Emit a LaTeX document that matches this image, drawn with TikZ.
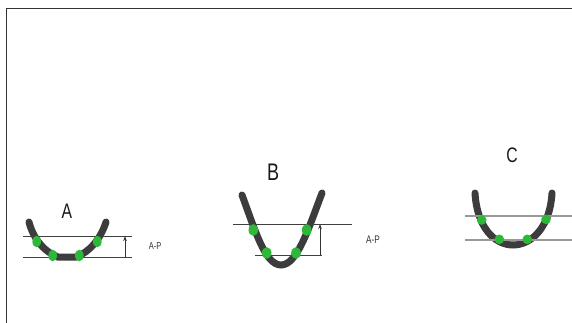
\documentclass[tikz,border=0pt]{standalone}
\usepackage{fontspec}
\setmainfont{Liberation Sans}
\usetikzlibrary{arrows.meta}
\definecolor{archgray}{HTML}{3C3C3C}
\definecolor{dotgreen}{HTML}{2DB83A}
\begin{document}
\begin{tikzpicture}[x=1pt,y=-1pt,
  arch/.style={draw=archgray,line width=7pt,line cap=round},
  refline/.style={draw=black!75,line width=0.8pt},
  lightline/.style={draw=black!40,line width=1.1pt},
  dimarrow/.style={draw=black!80,line width=0.8pt,-{Stealth[length=5pt,width=3.5pt]}},
  dot/.style={fill=dotgreen,draw=none},
  biglabel/.style={font=\fontsize{21}{21}\selectfont,xscale=0.75,inner sep=0pt,text=black!90},
  smalllabel/.style={font=\fontsize{11}{11}\selectfont,xscale=0.75,inner sep=0pt,text=black!80}]
\useasboundingbox (0,0) rectangle (572,323);
\fill[white] (0,0) rectangle (572,323);
% frame
\draw[black!80,line width=1.3pt] (6.5,323) -- (6.5,8.5) -- (572,8.5);

% ---- A ----
\node[biglabel] (la) at (67,211) {A};
\draw[arch] (29,222) .. controls (33,238) and (44,252) .. (58,257) -- (76,257) .. controls (90,252) and (101,238) .. (106,222);
\coordinate (a1) at (23,236); \coordinate (a2) at (132,236);
\coordinate (a3) at (23,257); \coordinate (a4) at (132,257);
\draw[refline] (a1) -- (a2);
\draw[refline] (a3) -- (a4);
\coordinate (aarB) at (125,257); \coordinate (aarT) at (125,236);
\draw[dimarrow] (aarB) -- (aarT);
\foreach \p in {(36.7,241.5),(52.7,255.5),(79.3,255.5),(97.3,241.5)}
  \fill[dot] \p ellipse (4.3pt and 5.8pt);
\node[smalllabel,font=\fontsize{10}{10}\selectfont] (apa) at (155,246) {A-P};

% ---- B ----
\node[biglabel,font=\fontsize{24}{24}\selectfont] (lb) at (273,172) {B};
\draw[arch] (242,195) .. controls (255,230) and (265,265) .. (281,265) .. controls (297,265) and (308,230) .. (322,193);
\coordinate (b1) at (233,224); \coordinate (b2) at (352,224);
\coordinate (b3) at (255,255); \coordinate (b4) at (322,255);
\draw[refline] (b1) -- (b2);
\draw[refline] (b3) -- (b4);
\coordinate (barB) at (320,255); \coordinate (barT) at (320,224);
\draw[dimarrow] (barB) -- (barT);
\foreach \p in {(253.3,230),(266.7,253),(296,253),(306.7,230)}
  \fill[dot] \p ellipse (4.8pt and 5.8pt);
\node[smalllabel] (apb) at (373,240) {A-P};

% ---- C ----
\node[biglabel] (lc) at (512,155) {C};
\draw[arch] (475,193) .. controls (477,228) and (495,245) .. (513,245) .. controls (531,245) and (550,228) .. (552,193);
\coordinate (c1) at (465,216); \coordinate (c2) at (572,216);
\coordinate (c3) at (465,240); \coordinate (c4) at (572,240);
\draw[lightline] (c1) -- (c2);
\draw[lightline] (c3) -- (c4);
\foreach \p in {(481.7,220),(499.3,239.3),(527.3,239.3),(546,219.3)}
  \fill[dot] \p ellipse (4.8pt and 4.8pt);
\end{tikzpicture}
\end{document}
